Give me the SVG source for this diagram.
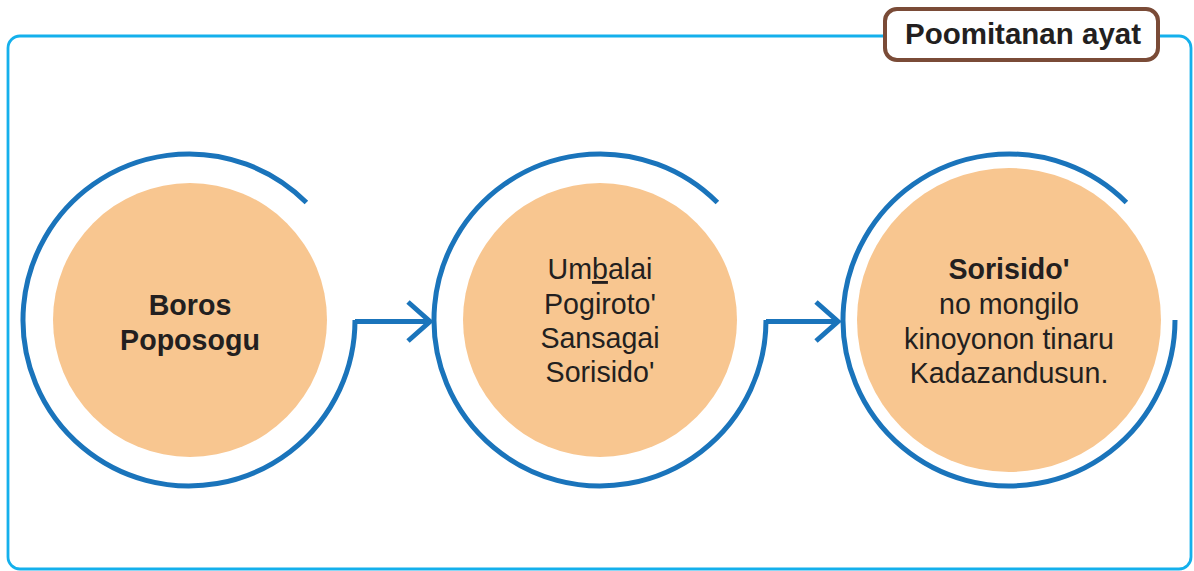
<svg xmlns="http://www.w3.org/2000/svg" width="1194" height="571" viewBox="0 0 1194 571">
<style>
.frame{fill:none;stroke:#14b0ec;stroke-width:2.8}
.ring{fill:none;stroke:#1a74bb;stroke-width:5}
.disc{fill:#f8c690}
.conn{fill:none;stroke:#1a74bb;stroke-width:5;stroke-linejoin:miter}
.t{font-family:"Liberation Sans",Arial,sans-serif;font-size:28.6px;fill:#231f20;text-anchor:middle}
.b{font-weight:bold}
</style>
<rect class="frame" x="8" y="36" width="1183" height="533" rx="12" ry="12"/>
<g id="title">
<rect x="885" y="9" width="273" height="51" rx="12" ry="12" fill="#fff" stroke="#7a4b37" stroke-width="4"/>
<text x="1023" y="44" font-family="Liberation Sans,Arial,sans-serif" font-size="29.5" font-weight="bold" fill="#231f20" text-anchor="middle">Poomitanan ayat</text>
</g>
<g id="node1">
<path class="ring" d="M306.4 202.6 A166 166 0 1 0 355 320"/>
<circle class="disc" cx="190" cy="320" r="137"/>
<text class="t b" x="190" y="315">Boros</text>
<text class="t b" x="190" y="350">Poposogu</text>
</g>
<g id="node2">
<path class="ring" d="M717.4 202.6 A166 166 0 1 0 766 320"/>
<circle class="disc" cx="600" cy="320" r="137"/>
<text class="t" x="600" y="279">Um<tspan style="text-decoration:underline">b</tspan>alai</text>
<text class="t" x="600" y="314">Pogiroto'</text>
<text class="t" x="600" y="348">Sansagai</text>
<text class="t" x="600" y="382">Sorisido'</text>
</g>
<g id="node3">
<path class="ring" d="M1126.4 202.6 A166 166 0 1 0 1175 320"/>
<circle class="disc" cx="1009" cy="320" r="152"/>
<text class="t b" x="1009" y="279">Sorisido'</text>
<text class="t" x="1009" y="314">no mongilo</text>
<text class="t" x="1009" y="349">kinoyonon tinaru</text>
<text class="t" x="1009" y="383">Kadazandusun.</text>
</g>
<g id="connectors">
<path class="conn" d="M355 321.5 H430"/>
<path class="conn" d="M408 302 L430 321.5 L408 341"/>
<path class="conn" d="M766 321.5 H838"/>
<path class="conn" d="M816 302 L838 321.5 L816 341"/>
</g>
</svg>
